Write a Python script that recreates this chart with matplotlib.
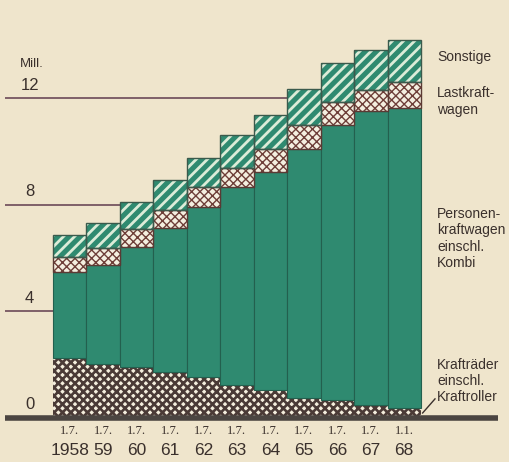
import matplotlib.pyplot as plt
import numpy as np

# Bestand an Kraftfahrzeugen, Mill. (gestapelt)
dates = ['1.7.', '1.7.', '1.7.', '1.7.', '1.7.', '1.7.', '1.7.', '1.7.', '1.7.', '1.7.', '1.1.']
years = ['1958', '59', '60', '61', '62', '63', '64', '65', '66', '67', '68']
kraftraeder = [2.23, 2.01, 1.91, 1.72, 1.53, 1.22, 1.03, 0.72, 0.66, 0.47, 0.35]
pkw = [3.24, 3.72, 4.49, 5.39, 6.39, 7.46, 8.21, 9.36, 10.34, 11.05, 11.27]
lkw = [0.58, 0.63, 0.68, 0.69, 0.76, 0.69, 0.84, 0.92, 0.87, 0.79, 1.00]
sonstige = [0.81, 0.94, 1.01, 1.13, 1.06, 1.25, 1.29, 1.34, 1.45, 1.51, 1.57]
yticks = [0, 4, 8, 12]

bg = '#efe5cc'
green = '#2f8a70'
ink = '#3a302c'
sans = ['Liberation Sans', 'DejaVu Sans']

fig = plt.figure(figsize=(5.1, 4.62), dpi=100, facecolor=bg)
ax = fig.add_axes([0, 0, 1, 1])
ax.set_facecolor(bg)
ax.set_xlim(-2.084, 13.162)
ax.set_ylim(-1.673, 15.70)
ax.axis('off')

x = np.arange(len(years))
n = len(years)

# Bezugslinien hinter den Saeulen
for t in yticks[1:]:
    ax.hlines(t, -1.92, n - 0.5, color='#6b4a58', lw=1.2, zorder=1)
    ax.text(-1.2, t + 0.2, str(t), ha='center', va='bottom', fontsize=12,
            family=sans, color=ink)
ax.text(-1.2, 0.2, '0', ha='center', va='bottom', fontsize=12, family=sans, color=ink)
ax.text(-1.48, 13.05, 'Mill.', ha='left', va='bottom', fontsize=9.5, family=sans, color=ink)

b0 = np.zeros(n)
with plt.rc_context({'hatch.linewidth': 1.9}):
    ax.bar(x, kraftraeder, width=1, bottom=b0, color='#f4eedd', edgecolor='#4a3a36',
           hatch='xxxx', lw=0, zorder=2)
b1 = b0 + np.array(kraftraeder)
ax.bar(x, pkw, width=1, bottom=b1, color=green, edgecolor='#23604e', lw=0.8, zorder=2)
b2 = b1 + np.array(pkw)
with plt.rc_context({'hatch.linewidth': 1.0}):
    ax.bar(x, lkw, width=1, bottom=b2, color='#f4efe0', edgecolor='#6e3e38',
           hatch='xxxx', lw=0, zorder=2)
ax.bar(x, lkw, width=1, bottom=b2, color='none', edgecolor='#5a3a34', lw=1.0, zorder=3)
b3 = b2 + np.array(lkw)
with plt.rc_context({'hatch.linewidth': 2.0}):
    ax.bar(x, sonstige, width=1, bottom=b3, color=green, edgecolor='#dcecd8',
           hatch='///', lw=0, zorder=2)
ax.bar(x, sonstige, width=1, bottom=b3, color='none', edgecolor='#3b5a4c', lw=1.0, zorder=3)

# Grundlinie
ax.hlines(0, -1.92, 12.8, color='#4b4541', lw=4, zorder=4)

# Achsenbeschriftung
for i in range(n):
    ax.text(x[i], -0.5, dates[i], ha='center', va='center', fontsize=9,
            family=['Liberation Serif', 'DejaVu Serif'], color=ink)
    ax.text(x[i], -1.25, years[i], ha='center', va='center', fontsize=12.5,
            family=sans, color=ink)

# Legende rechts
lx = 10.98
fs = 10
ax.text(lx, 13.55, 'Sonstige', ha='left', va='center', fontsize=fs, family=sans, color=ink)
ax.text(lx, 11.88, 'Lastkraft-\nwagen', ha='left', va='center', fontsize=fs, family=sans,
        color=ink, linespacing=1.2)
ax.text(lx, 6.73, 'Personen-\nkraftwagen\neinschl.\nKombi', ha='left', va='center',
        fontsize=fs, family=sans, color=ink, linespacing=1.2)
ax.text(lx, 1.38, 'Krafträder\neinschl.\nKraftroller', ha='left', va='center', fontsize=fs,
        family=sans, color=ink, linespacing=1.2)
ax.plot([10.55, 10.92], [0.17, 0.7], color=ink, lw=1.0, zorder=5)

fig.savefig('out.png', dpi=100, facecolor=bg)
